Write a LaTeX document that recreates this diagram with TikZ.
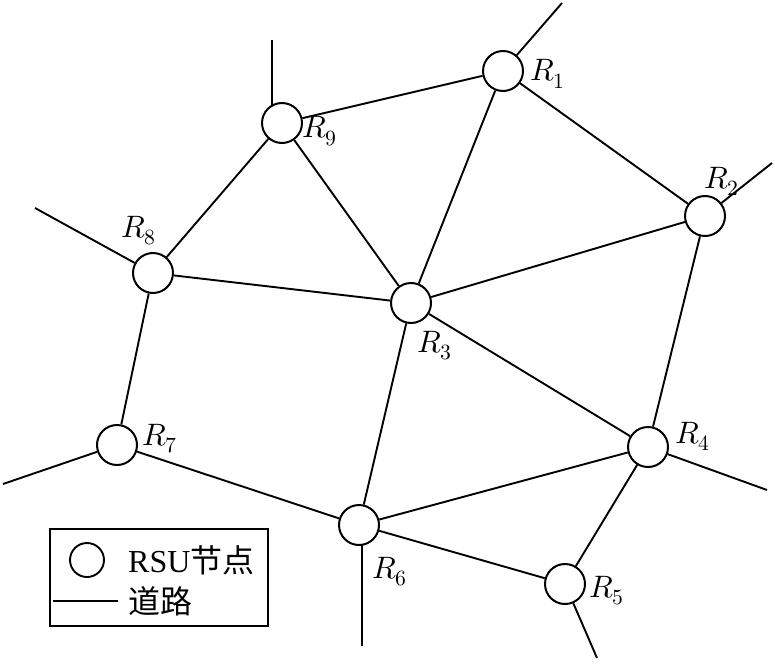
\documentclass[tikz,border=0pt]{standalone}
\usepackage{fontspec}
\usepackage{unicode-math}
\setmathfont{Latin Modern Math}
\newfontfamily\lserif{Liberation Serif}
\newfontfamily\cjk{Noto Sans CJK SC}
\begin{document}
\begin{tikzpicture}[x=1pt,y=-1pt,
  rsu/.style={circle,draw,line width=2pt,minimum size=40pt,inner sep=0pt},
  road/.style={line width=1.9pt},
  lab/.style={anchor=base west,inner sep=0pt,font=\fontsize{31}{36}\selectfont},
  legtext/.style={anchor=base west,inner sep=0pt,font=\fontsize{32}{38}\selectfont}]
\useasboundingbox (0,0) rectangle (775,663);
% nodes
\node[rsu] (r1) at (503,71) {};
\node[rsu] (r2) at (705,216) {};
\node[rsu] (r3) at (411,303) {};
\node[rsu] (r4) at (648,447) {};
\node[rsu] (r5) at (565,584) {};
\node[rsu] (r6) at (359,525) {};
\node[rsu] (r7) at (117,445) {};
\node[rsu] (r8) at (153,273) {};
\node[rsu] (r9) at (282,123) {};
% labels
\node[lab] (l1) at (530,81) {$R_1$};
\node[lab] (l2) at (704,188) {$R_2$};
\node[lab] (l3) at (417,352) {$R_3$};
\node[lab] (l4) at (675,443) {$R_4$};
\node[lab] (l5) at (589,597) {$R_5$};
\node[lab] (l6) at (372,578) {$R_6$};
\node[lab] (l7) at (142,445) {$R_7$};
\node[lab] (l8) at (121,237) {$R_8$};
\node[lab] (l9) at (302,138) {$R_9$};
% dangling road ends
\coordinate (e1) at (562,3);
\coordinate (e2) at (772,163);
\coordinate (e9) at (272,40);
\coordinate (e9b) at (272,105);
\coordinate (e8) at (35,208);
\coordinate (e7) at (3,484);
\coordinate (e4) at (767,490);
\coordinate (e5) at (597,658);
\coordinate (e6) at (362,646);
\coordinate (e6b) at (362,545);
% roads
\draw[road] (r1) -- (r9);
\draw[road] (r1) -- (r3);
\draw[road] (r1) -- (r2);
\draw[road] (r2) -- (r3);
\draw[road] (r2) -- (r4);
\draw[road] (r3) -- (r9);
\draw[road] (r3) -- (r8);
\draw[road] (r3) -- (r4);
\draw[road] (r3) -- (r6);
\draw[road] (r8) -- (r9);
\draw[road] (r8) -- (r7);
\draw[road] (r7) -- (r6);
\draw[road] (r6) -- (r4);
\draw[road] (r6) -- (r5);
\draw[road] (r5) -- (r4);
\draw[road] (r1) -- (e1);
\draw[road] (r2) -- (e2);
\draw[road] (e9b) -- (e9);
\draw[road] (r8) -- (e8);
\draw[road] (r7) -- (e7);
\draw[road] (r4) -- (e4);
\draw[road] (r5) -- (e5);
\draw[road] (e6b) -- (e6);
% legend
\node[draw,line width=1.9pt,minimum width=218pt,minimum height=97pt,inner sep=0pt] (legend) at (159,577.5) {};
\node[circle,draw,line width=1.9pt,minimum size=34pt,inner sep=0pt] (legc) at (87,560) {};
\node[legtext] (legt1) at (128,572) {\lserif RSU\cjk 节点};
\coordinate (la) at (53,601);
\coordinate (lb) at (118,601);
\draw[road] (la) -- (lb);
\node[legtext] (legt2) at (128,613) {\cjk 道路};
\end{tikzpicture}
\end{document}
